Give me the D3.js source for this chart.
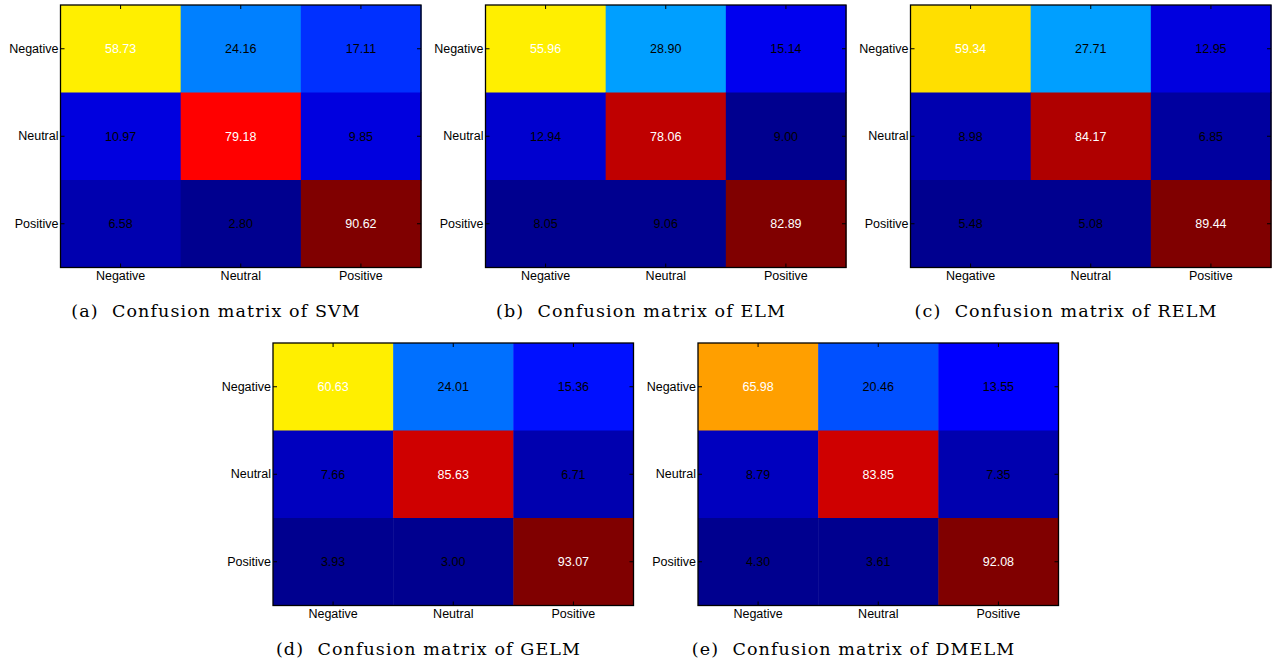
<!DOCTYPE html>
<html>
<head>
<meta charset="utf-8">
<script src="https://cdn.jsdelivr.net/npm/d3@7"></script>
<style>
  html, body { margin: 0; padding: 0; background: #fff; }
  svg { display: block; }
  .caption { white-space: pre; }
</style>
</head>
<body>
<svg id="chart" width="1272" height="664"></svg>
<script>
// ---- data ----
const categories = ["Negative", "Neutral", "Positive"];
const svmValues   = [[58.73, 24.16, 17.11], [10.97, 79.18, 9.85], [6.58, 2.80, 90.62]];
const elmValues   = [[55.96, 28.90, 15.14], [12.94, 78.06, 9.00], [8.05, 9.06, 82.89]];
const relmValues  = [[59.34, 27.71, 12.95], [8.98, 84.17, 6.85], [5.48, 5.08, 89.44]];
const gelmValues  = [[60.63, 24.01, 15.36], [7.66, 85.63, 6.71], [3.93, 3.00, 93.07]];
const dmelmValues = [[65.98, 20.46, 13.55], [8.79, 83.85, 7.35], [4.30, 3.61, 92.08]];
const captions = [
  "(a)  Confusion matrix of SVM",
  "(b)  Confusion matrix of ELM",
  "(c)  Confusion matrix of RELM",
  "(d)  Confusion matrix of GELM",
  "(e)  Confusion matrix of DMELM"
];

// ---- MATLAB jet(64) colormap ----
function jet(m) {
  const n = Math.ceil(m / 4);
  const u = [];
  for (let i = 1; i <= n; i++) u.push(i / n);
  for (let i = 1; i <= n - 1; i++) u.push(1);
  for (let i = n; i >= 1; i--) u.push(i / n);
  const off = Math.ceil(n / 2) - (m % 4 === 1 ? 1 : 0);
  const J = Array.from({length: m}, () => [0, 0, 0]);
  const L = u.length;
  const g = [], r = [], b = [];
  for (let k = 1; k <= L; k++) {
    const gi = off + k;
    if (gi <= m) g.push(gi);
    if (gi + n <= m) r.push(gi + n);
    if (gi - n >= 1) b.push(gi - n);
  }
  r.forEach((idx, k) => J[idx - 1][0] = u[k]);
  g.forEach((idx, k) => J[idx - 1][1] = u[k]);
  b.forEach((idx, k) => J[idx - 1][2] = u[L - b.length + k]);
  return J.map(c => d3.rgb(Math.round(c[0] * 255), Math.round(c[1] * 255), Math.round(c[2] * 255)).formatHex());
}
const jetColors = jet(64);

// ---- layout ----
const panels = [
  {values: svmValues,   caption: captions[0], left: 60.5,  top: 5},
  {values: elmValues,   caption: captions[1], left: 485.5, top: 5},
  {values: relmValues,  caption: captions[2], left: 910.5, top: 5},
  {values: gelmValues,  caption: captions[3], left: 273,   top: 343},
  {values: dmelmValues, caption: captions[4], left: 698,   top: 343}
];
const W = 360.5, H = 262.5;
const fmt = d3.format(".2f");
const svg = d3.select("#chart");

panels.forEach(p => {
  const g = svg.append("g").attr("transform", `translate(${p.left},${p.top})`);
  const x = d3.scaleBand().domain(categories).range([0, W]);
  const y = d3.scaleBand().domain(categories).range([0, H]);
  const flat = p.values.flat();
  const color = d3.scaleQuantize().domain(d3.extent(flat)).range(jetColors);

  const cells = [];
  categories.forEach((rc, i) => categories.forEach((cc, j) => {
    cells.push({row: rc, col: cc, v: p.values[i][j]});
  }));

  g.selectAll("rect.cell").data(cells).join("rect")
    .attr("class", "cell")
    .attr("x", d => x(d.col))
    .attr("y", d => y(d.row))
    .attr("width", x.bandwidth() + 0.5)
    .attr("height", y.bandwidth() + 0.5)
    .attr("fill", d => color(d.v));

  g.selectAll("text.val").data(cells).join("text")
    .attr("class", "val")
    .attr("x", d => x(d.col) + x.bandwidth() / 2)
    .attr("y", d => y(d.row) + y.bandwidth() / 2)
    .attr("dy", "0.36em")
    .attr("text-anchor", "middle")
    .attr("font-family", "Liberation Sans, Arial, sans-serif")
    .attr("font-size", 12.5)
    .attr("fill", d => d.v > 50 ? "#ffffff" : "#000000")
    .text(d => fmt(d.v));

  // axes with inward ticks
  const tl = 4;
  const xb = d3.axisBottom(x).tickSize(-tl).tickPadding(4);
  const xt = d3.axisTop(x).tickSize(-tl).tickFormat("");
  const yl = d3.axisLeft(y).tickSize(-tl).tickPadding(2);
  const yr = d3.axisRight(y).tickSize(-tl).tickFormat("");

  [[xb, `translate(0,${H})`], [xt, "translate(0,0)"], [yl, "translate(0,0)"], [yr, `translate(${W},0)`]]
    .forEach(([ax, tr]) => {
      const a = g.append("g").attr("transform", tr).call(ax);
      a.select(".domain").remove();
      a.selectAll(".tick line").attr("stroke", "#000").attr("stroke-width", 1);
      a.selectAll(".tick text")
        .attr("font-family", "Liberation Sans, Arial, sans-serif")
        .attr("font-size", 12.5)
        .attr("fill", "#000");
    });

  g.append("rect")
    .attr("x", 0).attr("y", 0).attr("width", W).attr("height", H)
    .attr("fill", "none").attr("stroke", "#000").attr("stroke-width", 1.3);

  g.append("text")
    .attr("class", "caption")
    .attr("x", W / 2 - 24.75)
    .attr("y", H + 49.5)
    .attr("text-anchor", "middle")
    .attr("font-family", "DejaVu Serif, serif")
    .attr("font-size", 17.5)
    .attr("letter-spacing", 1.1)
    .attr("fill", "#000")
    .text(p.caption);
});
</script>
</body>
</html>
